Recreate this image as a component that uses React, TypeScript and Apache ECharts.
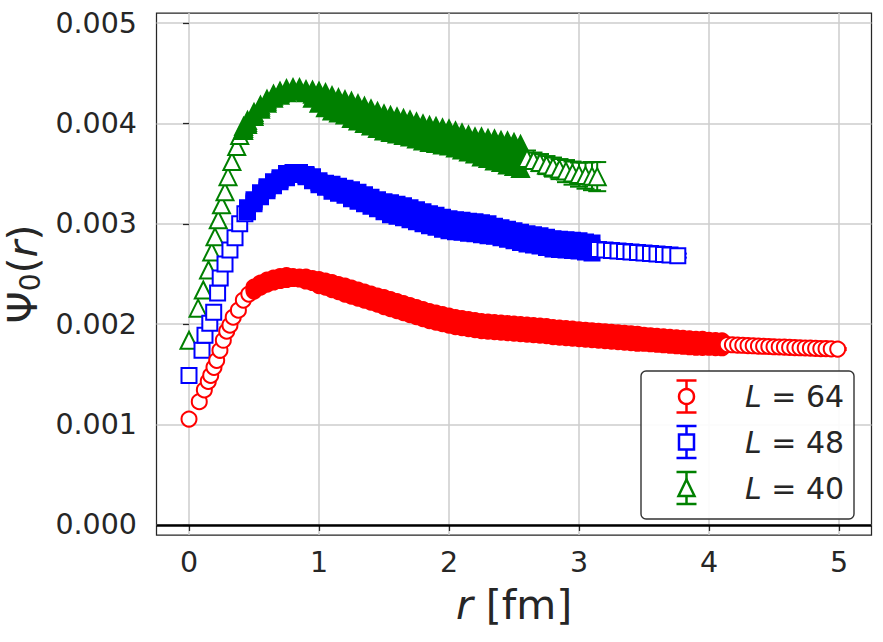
import React, { useEffect, useRef } from "react";
import * as echarts from "echarts";

// ---------- axis ticks ----------
const xTicks = [0, 1, 2, 3, 4, 5];
const yTicks = [0, 0.001, 0.002, 0.003, 0.004, 0.005];

// ---------- data (psi in units of 1e-3) ----------
// L = 64 (red circles)
const redRiseR = [0, 0.079, 0.118, 0.148, 0.167, 0.192, 0.213, 0.238, 0.264, 0.29, 0.315, 0.34, 0.38, 0.418, 0.46];
const redRisePsi = [1.055, 1.228, 1.345, 1.43, 1.49, 1.57, 1.64, 1.74, 1.84, 1.93, 1.99, 2.07, 2.14, 2.24, 2.3];
const redBandR = [
  0.5, 0.55, 0.6, 0.65, 0.7, 0.75, 0.8, 0.85, 0.9, 0.95,
  1.0, 1.05, 1.1, 1.15, 1.2, 1.25, 1.3, 1.35, 1.4, 1.45,
  1.5, 1.55, 1.6, 1.65, 1.7, 1.75, 1.8, 1.85, 1.9, 1.95,
  2.0, 2.05, 2.1, 2.15, 2.2, 2.25, 2.3, 2.35, 2.4, 2.45,
  2.5, 2.55, 2.6, 2.65, 2.7, 2.75, 2.8, 2.85, 2.9, 2.95,
  3.0, 3.05, 3.1, 3.15, 3.2, 3.25, 3.3, 3.35, 3.4, 3.45,
  3.5, 3.55, 3.6, 3.65, 3.7, 3.75, 3.8, 3.85, 3.9, 3.95,
  4.0, 4.05, 4.1,
];
const redBandPsi = [
  2.35, 2.39, 2.42, 2.44, 2.455, 2.465, 2.465, 2.46, 2.45, 2.435,
  2.415, 2.4, 2.38, 2.36, 2.34, 2.32, 2.3, 2.28, 2.26, 2.24,
  2.22, 2.2, 2.18, 2.16, 2.14, 2.12, 2.1, 2.08, 2.065, 2.05,
  2.035, 2.02, 2.01, 2.0, 1.99, 1.98, 1.975, 1.97, 1.965, 1.96,
  1.955, 1.95, 1.945, 1.94, 1.935, 1.93, 1.92, 1.915, 1.91, 1.905,
  1.9, 1.895, 1.89, 1.885, 1.88, 1.875, 1.87, 1.865, 1.86, 1.855,
  1.85, 1.845, 1.84, 1.835, 1.83, 1.825, 1.82, 1.815, 1.81, 1.808,
  1.805, 1.802, 1.8,
];
const redBandSpread = [
  0.02, 0.02, 0.02, 0.02, 0.02, 0.02, 0.01, 0.01, 0.02, 0.02,
  0.03, 0.03, 0.035, 0.035, 0.04, 0.04, 0.04, 0.04, 0.04, 0.04,
  0.045, 0.045, 0.045, 0.045, 0.045, 0.045, 0.045, 0.045, 0.045, 0.045,
  0.045, 0.045, 0.045, 0.045, 0.045, 0.045, 0.045, 0.045, 0.045, 0.045,
  0.045, 0.045, 0.045, 0.045, 0.045, 0.045, 0.045, 0.045, 0.045, 0.045,
  0.045, 0.045, 0.045, 0.045, 0.045, 0.045, 0.045, 0.045, 0.045, 0.045,
  0.04, 0.04, 0.04, 0.04, 0.04, 0.04, 0.04, 0.04, 0.04, 0.04,
  0.035, 0.035, 0.035,
];
const redTailR = [4.14, 4.18, 4.22, 4.26, 4.3, 4.34, 4.38, 4.42, 4.46, 4.5, 4.54, 4.58, 4.62, 4.66, 4.7, 4.74, 4.78, 4.82, 4.86, 4.9, 4.94, 4.99];
const redTailPsi = [1.797, 1.795, 1.792, 1.79, 1.787, 1.785, 1.782, 1.78, 1.778, 1.775, 1.773, 1.771, 1.769, 1.767, 1.765, 1.763, 1.761, 1.759, 1.757, 1.756, 1.754, 1.752];
const redTailErr = [0.01, 0.01, 0.01, 0.01, 0.01, 0.01, 0.01, 0.01, 0.01, 0.01, 0.01, 0.01, 0.01, 0.01, 0.01, 0.01, 0.01, 0.01, 0.01, 0.01, 0.01, 0.01];

// L = 48 (blue squares)
const blueRiseR = [0, 0.1, 0.123, 0.16, 0.19, 0.22, 0.24, 0.277, 0.315, 0.354, 0.39, 0.43];
const blueRisePsi = [1.49, 1.74, 1.89, 2.01, 2.12, 2.31, 2.46, 2.6, 2.74, 2.86, 3.0, 3.1];
const blueBandR = [
  0.45,
  0.5, 0.55, 0.6, 0.65, 0.7, 0.75, 0.8, 0.85, 0.9, 0.95,
  1.0, 1.05, 1.1, 1.15, 1.2, 1.25, 1.3, 1.35, 1.4, 1.45,
  1.5, 1.55, 1.6, 1.65, 1.7, 1.75, 1.8, 1.85, 1.9, 1.95,
  2.0, 2.05, 2.1, 2.15, 2.2, 2.25, 2.3, 2.35, 2.4, 2.45,
  2.5, 2.55, 2.6, 2.65, 2.7, 2.75, 2.8, 2.85, 2.9, 2.95,
  3.0, 3.05, 3.1,
];
const blueBandPsi = [
  3.14,
  3.22, 3.29, 3.35, 3.4, 3.44, 3.48, 3.5, 3.5, 3.48, 3.45,
  3.41, 3.385, 3.36, 3.34, 3.32, 3.295, 3.27, 3.245, 3.22, 3.195,
  3.17, 3.15, 3.135, 3.12, 3.1, 3.08, 3.06, 3.04, 3.025, 3.005,
  2.99, 2.98, 2.975, 2.965, 2.96, 2.95, 2.94, 2.925, 2.91, 2.895,
  2.88, 2.865, 2.85, 2.84, 2.83, 2.815, 2.8, 2.795, 2.79, 2.785,
  2.78, 2.77, 2.76,
];
const blueBandSpread = [
  0.02,
  0.02, 0.02, 0.02, 0.02, 0.02, 0.02, 0.01, 0.01, 0.01, 0.02,
  0.02, 0.02, 0.035, 0.035, 0.035, 0.045, 0.045, 0.045, 0.045, 0.045,
  0.05, 0.06, 0.06, 0.06, 0.06, 0.06, 0.06, 0.06, 0.06, 0.06,
  0.06, 0.06, 0.06, 0.06, 0.06, 0.06, 0.06, 0.05, 0.05, 0.05,
  0.05, 0.05, 0.05, 0.05, 0.05, 0.05, 0.05, 0.05, 0.05, 0.05,
  0.05, 0.05, 0.05,
];
const blueTailR = [3.15, 3.2, 3.25, 3.3, 3.35, 3.4, 3.45, 3.5, 3.55, 3.6, 3.65, 3.7, 3.76];
const blueTailPsi = [2.745, 2.74, 2.735, 2.73, 2.725, 2.72, 2.715, 2.71, 2.705, 2.7, 2.695, 2.69, 2.683];
const blueTailErr = [0.02, 0.02, 0.02, 0.02, 0.02, 0.02, 0.02, 0.02, 0.02, 0.02, 0.02, 0.02, 0.02];

// L = 40 (green triangles)
const greenRiseR = [0, 0.07, 0.11, 0.15, 0.175, 0.2, 0.225, 0.25, 0.277, 0.3, 0.33, 0.367, 0.39];
const greenRisePsi = [1.84, 2.16, 2.34, 2.54, 2.72, 2.87, 3.04, 3.19, 3.32, 3.47, 3.62, 3.77, 3.88];
const greenBandR = [
  0.42, 0.45,
  0.5, 0.55, 0.6, 0.65, 0.7, 0.75, 0.8, 0.85, 0.9, 0.95,
  1.0, 1.05, 1.1, 1.15, 1.2, 1.25, 1.3, 1.35, 1.4, 1.45,
  1.5, 1.55, 1.6, 1.65, 1.7, 1.75, 1.8, 1.85, 1.9, 1.95,
  2.0, 2.05, 2.1, 2.15, 2.2, 2.25, 2.3, 2.35, 2.4, 2.45,
  2.5, 2.55,
];
const greenBandPsi = [
  3.95, 4.01,
  4.09, 4.16, 4.22, 4.27, 4.3, 4.325, 4.34, 4.34, 4.32, 4.29,
  4.26, 4.23, 4.2, 4.18, 4.16, 4.135, 4.11, 4.085, 4.06, 4.035,
  4.01, 3.995, 3.98, 3.965, 3.95, 3.93, 3.91, 3.895, 3.885, 3.87,
  3.86, 3.84, 3.82, 3.8, 3.78, 3.765, 3.75, 3.735, 3.72, 3.705,
  3.69, 3.67,
];
const greenBandSpread = [
  0.02, 0.02,
  0.02, 0.02, 0.02, 0.02, 0.02, 0.02, 0.015, 0.015, 0.015, 0.04,
  0.06, 0.075, 0.075, 0.075, 0.075, 0.085, 0.085, 0.085, 0.085, 0.085,
  0.085, 0.085, 0.085, 0.085, 0.085, 0.085, 0.085, 0.085, 0.085, 0.085,
  0.085, 0.085, 0.085, 0.085, 0.085, 0.1, 0.1, 0.11, 0.11, 0.12,
  0.12, 0.12,
];
const greenTailR = [2.6, 2.65, 2.7, 2.75, 2.8, 2.85, 2.9, 2.95, 3.0, 3.05, 3.1, 3.14];
const greenTailPsi = [3.65, 3.63, 3.61, 3.585, 3.565, 3.545, 3.525, 3.505, 3.49, 3.48, 3.475, 3.47];
const greenTailErr = [0.08, 0.08, 0.085, 0.09, 0.095, 0.1, 0.11, 0.115, 0.12, 0.13, 0.14, 0.145];

const legendLabels = ["64", "48", "40"];

const RED = "#ff0000";
const BLUE = "#0000ff";
const GREEN = "#008000";
const INK = "#262626";
const FONT = "DejaVu Sans";
const U = 1e-3;

function buildPoints(
  riseR: number[], riseP: number[],
  bandR: number[], bandP: number[], bandS: number[],
  tailR: number[], tailP: number[],
  color: string
) {
  const pts: any[] = [];
  const hollow = { color: "#ffffff", borderColor: color };
  const solid = { color, borderColor: color };
  riseR.forEach((r, i) => pts.push({ value: [r, riseP[i] * U], itemStyle: hollow }));
  bandR.forEach((r, i) => {
    pts.push({ value: [r, (bandP[i] + bandS[i]) * U], itemStyle: solid });
    pts.push({ value: [r, bandP[i] * U], itemStyle: solid });
    pts.push({ value: [r, (bandP[i] - bandS[i]) * U], itemStyle: solid });
  });
  tailR.forEach((r, i) => pts.push({ value: [r, tailP[i] * U], itemStyle: hollow }));
  return pts;
}

function errData(rs: number[], ps: number[], es: number[]) {
  return rs.map((r, i) => [r, ps[i] * U, es[i] * U]);
}

function errSeries(data: number[][], color: string) {
  return {
    type: "custom",
    coordinateSystem: "cartesian2d",
    encode: { x: 0, y: 1 },
    data,
    clip: true,
    silent: true,
    renderItem: (_p: any, api: any) => {
      const x = api.value(0);
      const y = api.value(1);
      const e = api.value(2);
      const t = api.coord([x, y + e]);
      const b = api.coord([x, y - e]);
      const cw = 9;
      const st = { stroke: color, lineWidth: 2 };
      return {
        type: "group",
        children: [
          { type: "line", shape: { x1: t[0], y1: t[1], x2: b[0], y2: b[1] }, style: st },
          { type: "line", shape: { x1: t[0] - cw, y1: t[1], x2: t[0] + cw, y2: t[1] }, style: st },
          { type: "line", shape: { x1: b[0] - cw, y1: b[1], x2: b[0] + cw, y2: b[1] }, style: st },
        ],
      };
    },
  };
}

function scatterSeries(data: any[], symbol: string, size: number, extra: any = {}) {
  return {
    type: "scatter",
    data,
    symbol,
    symbolSize: size,
    itemStyle: { borderWidth: 2, opacity: 1 },
    emphasis: { disabled: true },
    silent: true,
    ...extra,
  };
}

function legendGraphics() {
  const rows = [
    { y: 396.5, color: RED, kind: "circle" },
    { y: 442, color: BLUE, kind: "square" },
    { y: 488, color: GREEN, kind: "triangle" },
  ];
  const g: any[] = [
    {
      type: "rect",
      z: 100,
      shape: { x: 641, y: 371, width: 213, height: 148, r: 5 },
      style: { fill: "rgba(255,255,255,0.9)", stroke: "#333333", lineWidth: 1.4 },
    },
  ];
  const cx = 686.5;
  rows.forEach((row, i) => {
    const st = { stroke: row.color, lineWidth: 2.5 };
    g.push({ type: "line", z: 101, shape: { x1: cx, y1: row.y - 16, x2: cx, y2: row.y + 16 }, style: st });
    g.push({ type: "line", z: 101, shape: { x1: cx - 10, y1: row.y - 16, x2: cx + 10, y2: row.y - 16 }, style: st });
    g.push({ type: "line", z: 101, shape: { x1: cx - 10, y1: row.y + 16, x2: cx + 10, y2: row.y + 16 }, style: st });
    const mst = { fill: "#ffffff", stroke: row.color, lineWidth: 2.5 };
    if (row.kind === "circle") {
      g.push({ type: "circle", z: 102, shape: { cx, cy: row.y, r: 7.5 }, style: mst });
    } else if (row.kind === "square") {
      g.push({ type: "rect", z: 102, shape: { x: cx - 7.5, y: row.y - 7.5, width: 15, height: 15 }, style: mst });
    } else {
      g.push({
        type: "polygon",
        z: 102,
        shape: { points: [[cx, row.y - 8.5], [cx - 8, row.y + 8], [cx + 8, row.y + 8]] },
        style: mst,
      });
    }
    g.push({
      type: "text",
      z: 102,
      x: 745,
      y: row.y,
      style: {
        text: "{i|L} = " + legendLabels[i],
        fontSize: 30,
        fontFamily: FONT,
        fill: INK,
        align: "left",
        verticalAlign: "middle",
        rich: {
          i: { fontStyle: "italic", fontSize: 30, fontFamily: FONT, fill: INK },
        },
      },
    });
  });
  return g;
}

export default function App() {
  const ref = useRef<HTMLDivElement>(null);
  useEffect(() => {
    if (!ref.current) return;
    const chart = echarts.init(ref.current, undefined, { renderer: "svg" });

    const redPts = buildPoints(redRiseR, redRisePsi, redBandR, redBandPsi, redBandSpread, redTailR, redTailPsi, RED);
    const bluePts = buildPoints(blueRiseR, blueRisePsi, blueBandR, blueBandPsi, blueBandSpread, blueTailR, blueTailPsi, BLUE);
    const greenPts = buildPoints(greenRiseR, greenRisePsi, greenBandR, greenBandPsi, greenBandSpread, greenTailR, greenTailPsi, GREEN);

    const axisCommon = {
      type: "value",
      axisLine: { show: false },
      axisTick: { show: true, inside: false, length: 6, lineStyle: { color: INK, width: 1.25 } },
      splitLine: { show: true, lineStyle: { color: "#cccccc", width: 1.5 } },
    };

    const option: any = {
      animation: false,
      backgroundColor: "#ffffff",
      textStyle: { fontFamily: FONT },
      grid: {
        left: 156.5,
        top: 13,
        right: 11.5,
        bottom: 107,
        containLabel: false,
        outerBoundsMode: "none",
        show: true,
        borderColor: INK,
        borderWidth: 1.25,
        backgroundColor: "transparent",
      },
      xAxis: {
        ...axisCommon,
        min: -0.25,
        max: 5.25,
        axisTick: { ...axisCommon.axisTick, customValues: xTicks },
        axisLabel: {
          customValues: xTicks,
          fontSize: 28.5,
          color: INK,
          fontFamily: FONT,
          margin: 13,
          formatter: (v: number) => String(v),
        },
        name: "{i|r} [fm]",
        nameLocation: "middle",
        nameGap: 49,
        nameTextStyle: {
          fontSize: 41,
          color: INK,
          fontFamily: FONT,
          rich: { i: { fontStyle: "italic", fontSize: 41, color: INK, fontFamily: FONT } },
        },
      },
      yAxis: {
        ...axisCommon,
        min: -0.0001,
        max: 0.0051,
        axisTick: { ...axisCommon.axisTick, customValues: yTicks },
        axisLabel: {
          customValues: yTicks,
          fontSize: 28.5,
          color: INK,
          fontFamily: FONT,
          margin: 19.5,
          formatter: (v: number) => v.toFixed(3),
        },
        name: "{n|Ψ}{s|0}{n|(}{i|r}{n|)}",
        nameLocation: "middle",
        nameGap: 98,
        nameTextStyle: {
          fontSize: 41,
          color: INK,
          fontFamily: FONT,
          rich: {
            n: { fontSize: 41, color: INK, fontFamily: FONT },
            s: { fontSize: 28, color: INK, fontFamily: FONT, padding: [15, 0, 0, 0] },
            i: { fontStyle: "italic", fontSize: 41, color: INK, fontFamily: FONT },
          },
        },
      },
      series: [
        errSeries(errData(greenTailR, greenTailPsi, greenTailErr), GREEN),
        scatterSeries(greenPts, "triangle", 17),
        errSeries(errData(blueTailR, blueTailPsi, blueTailErr), BLUE),
        scatterSeries(bluePts, "rect", 15),
        errSeries(errData(redTailR, redTailPsi, redTailErr), RED),
        scatterSeries(redPts, "circle", 15, {
          markLine: {
            silent: true,
            symbol: ["none", "none"],
            label: { show: false },
            lineStyle: { color: "#000000", width: 2.5, type: "solid" },
            emphasis: { disabled: true },
            data: [{ yAxis: 0 }],
          },
        }),
      ],
      graphic: legendGraphics(),
    };
    chart.setOption(option);
    return () => chart.dispose();
  }, []);

  return (
    <div
      ref={ref}
      style={{ position: "fixed", left: 0, top: 0, width: 883, height: 642, background: "#ffffff" }}
    />
  );
}
